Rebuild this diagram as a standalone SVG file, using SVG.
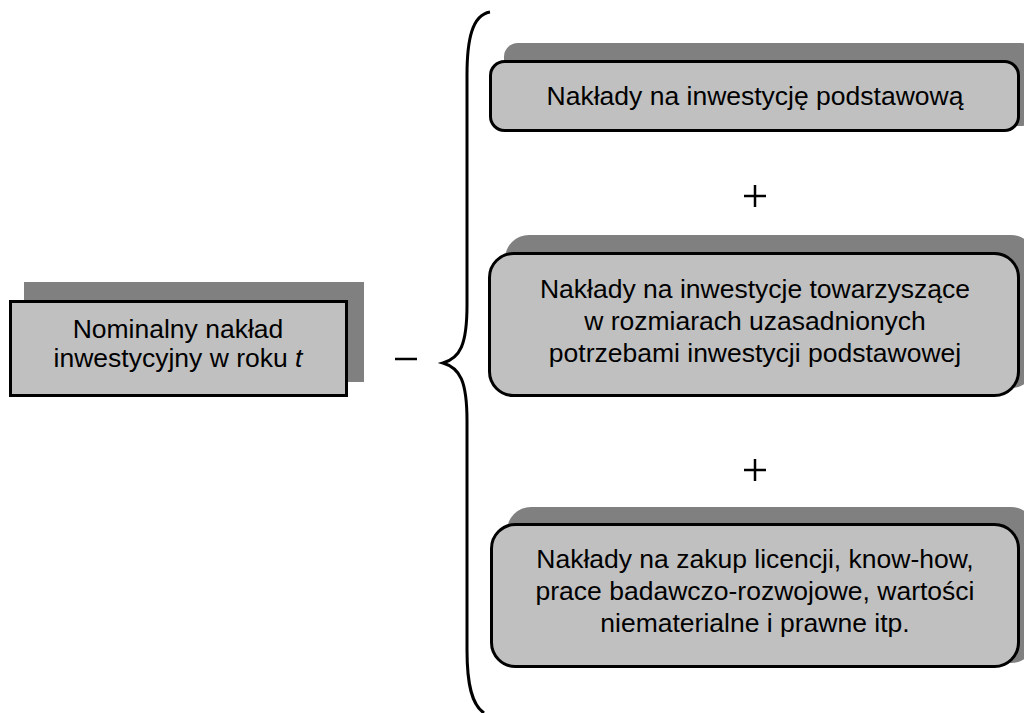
<svg xmlns="http://www.w3.org/2000/svg" width="1024" height="713" viewBox="0 0 1024 713">
<style>
.shadow{fill:#808080;stroke:none}
.box{fill:#c0c0c0;stroke:#000;stroke-width:3}
.t{font-family:"Liberation Sans",Arial,sans-serif;font-size:26.5px;fill:#000;text-anchor:middle}
.sym{stroke:#000;stroke-width:2.5;fill:none}
</style>
<rect width="1024" height="713" fill="#fff"/>
<g id="nominal">
<rect class="shadow" x="24" y="282" width="340" height="100"/>
<rect class="box" x="10.5" y="301.5" width="336" height="94"/>
<text class="t" x="178" y="338">Nominalny nakład</text>
<text class="t" x="178" y="367">inwestycyjny w roku <tspan font-style="italic">t</tspan></text>
</g>
<g id="connectors">
<line class="sym" x1="395" y1="359" x2="417" y2="359"/>
<path d="M490,12 C472,15 467,40 467,75 L467,305 C467,345 460,358 443,363 C460,368 467,381 467,421 L467,650 C467,685 472,705 484,713" fill="none" stroke="#000" stroke-width="3"/>
<line class="sym" x1="744" y1="196" x2="766" y2="196"/>
<line class="sym" x1="755" y1="185" x2="755" y2="207"/>
<line class="sym" x1="744" y1="470" x2="766" y2="470"/>
<line class="sym" x1="755" y1="459" x2="755" y2="481"/>
</g>
<g id="podstawowa">
<rect class="shadow" x="504" y="43" width="531" height="83" rx="14"/>
<rect class="box" x="490.5" y="61.5" width="528" height="69" rx="14"/>
<text class="t" x="755" y="105">Nakłady na inwestycję podstawową</text>
</g>
<g id="towarzyszace">
<rect class="shadow" x="505" y="235" width="530" height="153" rx="24"/>
<rect class="box" x="489.5" y="253.5" width="529" height="142" rx="24"/>
<text class="t" x="755" y="298">Nakłady na inwestycje towarzyszące</text>
<text class="t" x="755" y="330">w rozmiarach uzasadnionych</text>
<text class="t" x="755" y="362">potrzebami inwestycji podstawowej</text>
</g>
<g id="licencje">
<rect class="shadow" x="507" y="507" width="528" height="156" rx="24"/>
<rect class="box" x="491.5" y="524.5" width="527" height="142" rx="24"/>
<text class="t" x="755" y="568">Nakłady na zakup licencji, know-how,</text>
<text class="t" x="755" y="600">prace badawczo-rozwojowe, wartości</text>
<text class="t" x="755" y="632">niematerialne i prawne itp.</text>
</g>
</svg>
